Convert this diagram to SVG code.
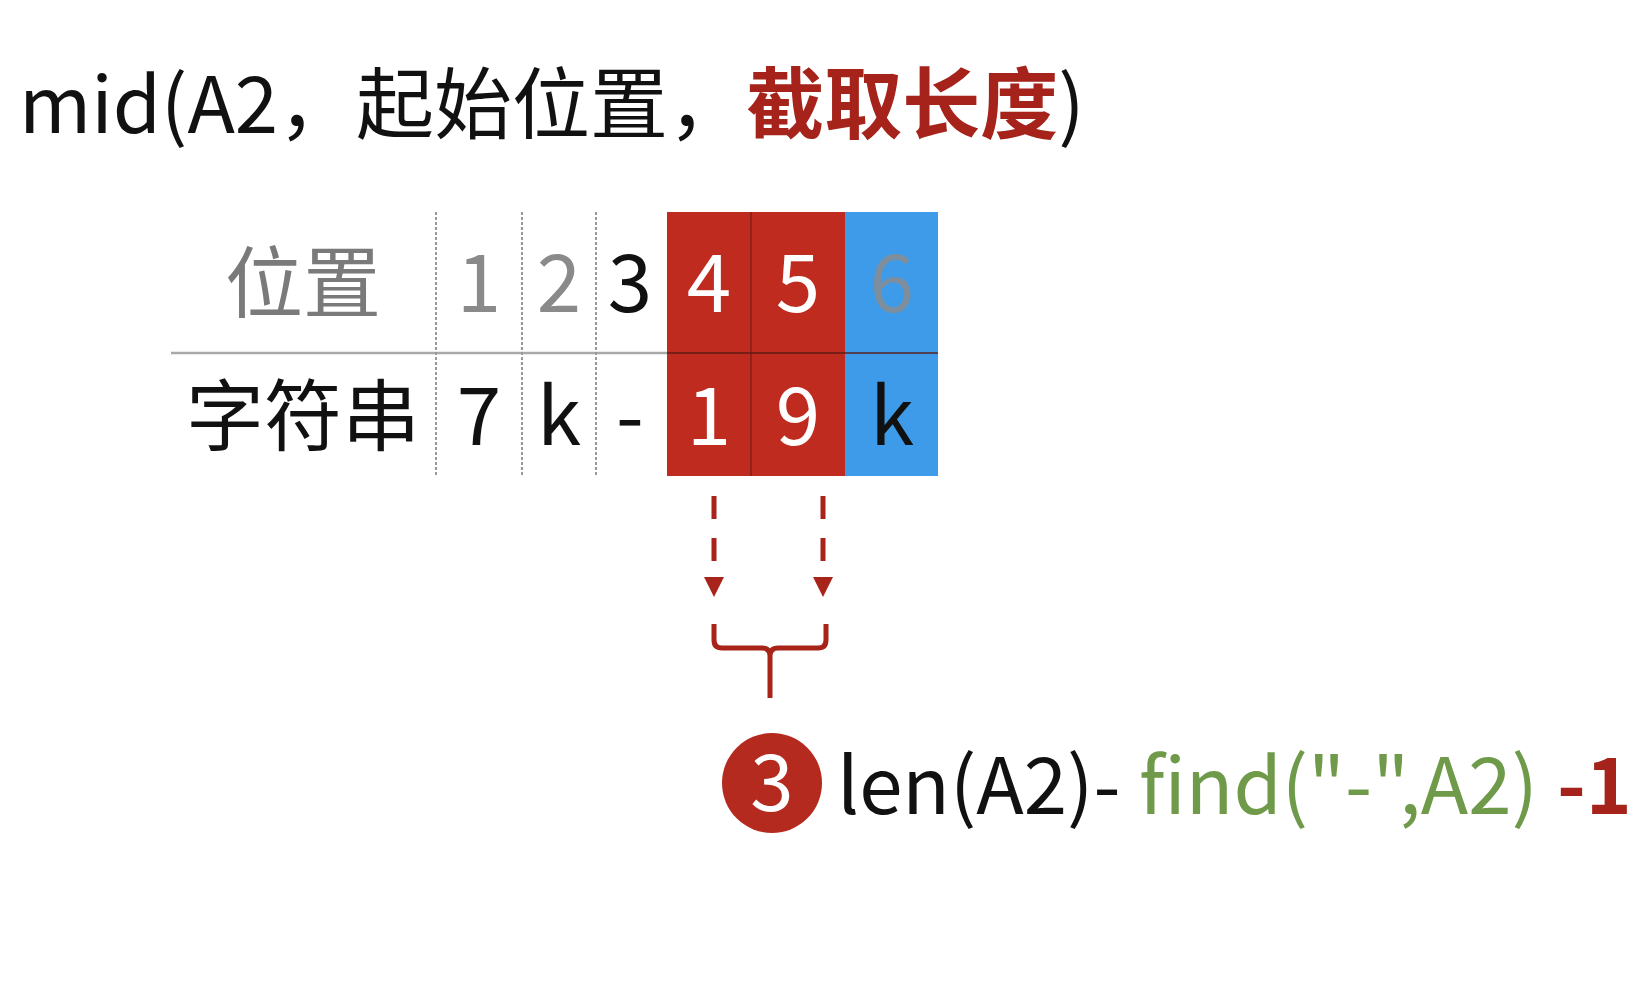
<svg xmlns="http://www.w3.org/2000/svg" width="1641" height="991" viewBox="0 0 1641 991">
<defs>
<style>
text{font-family:"Noto Sans CJK SC","Noto Sans",sans-serif;}
.t{font-size:78px;fill:#111;}
.cell{font-size:80px;text-anchor:middle;}
.f{font-size:78px;}
.grid{stroke:#9a9a9a;stroke-width:2;stroke-dasharray:3 2;fill:none;}
.conn{stroke:#A8241A;stroke-width:5;fill:none;}
.dash{stroke-dasharray:23 19;}
</style>
</defs>
<rect width="1641" height="991" fill="#ffffff"/>
<g id="title">
<text class="t" x="19" y="133">mid(A2，起始位置，<tspan fill="#A5231B" font-weight="bold">截取长度</tspan>)</text>
</g>
<g id="table">
<rect x="667" y="212" width="178" height="264" fill="#BF2B1E"/>
<rect x="845" y="212" width="93" height="264" fill="#3D9BE9"/>
<line x1="171" y1="353" x2="667" y2="353" stroke="#a8a8a8" stroke-width="2.5"/>
<line x1="667" y1="353" x2="938" y2="353" stroke="#5a1a14" stroke-width="2" opacity="0.7"/>
<line x1="751" y1="212" x2="751" y2="476" stroke="#6a1a14" stroke-width="1.5" opacity="0.7"/>
<line x1="436" y1="212" x2="436" y2="476" class="grid"/>
<line x1="522" y1="212" x2="522" y2="476" class="grid"/>
<line x1="596" y1="212" x2="596" y2="476" class="grid"/>
<text class="t" x="303" y="312" text-anchor="middle" style="fill:#7a7a7a">位置</text>
<text class="t" x="303" y="445" text-anchor="middle">字符串</text>
<text class="cell" x="479" y="312" fill="#8a8a8a">1</text>
<text class="cell" x="559" y="312" fill="#8a8a8a">2</text>
<text class="cell" x="630" y="312" fill="#111">3</text>
<text class="cell" x="709" y="312" fill="#fff">4</text>
<text class="cell" x="798" y="312" fill="#fff">5</text>
<text class="cell" x="892" y="312" fill="#7d8e9e">6</text>
<text class="cell" x="479" y="445" fill="#111">7</text>
<text class="cell" x="559" y="445" fill="#111">k</text>
<text class="cell" x="630" y="445" fill="#111">-</text>
<text class="cell" x="709" y="445" fill="#fff">1</text>
<text class="cell" x="798" y="445" fill="#fff">9</text>
<text class="cell" x="892" y="445" fill="#111">k</text>
</g>
<g id="connectors">
<line x1="714" y1="496" x2="714" y2="583" class="conn dash"/>
<line x1="823" y1="496" x2="823" y2="583" class="conn dash"/>
<path d="M704,577 L724,577 L714,597 Z" fill="#A8241A"/>
<path d="M813,577 L833,577 L823,597 Z" fill="#A8241A"/>
<path d="M714,624 L714,640 Q714,648 722,648 L762,648 Q770,648 770,656 L770,698 M770,656 Q770,648 778,648 L818,648 Q826,648 826,640 L826,624" class="conn" stroke-width="6"/>
</g>
<g id="formula">
<circle cx="772" cy="783" r="50" fill="#B52A1E"/>
<text x="772" y="811" font-size="78" text-anchor="middle" fill="#fff">3</text>
<text class="f" x="837" y="814" fill="#111">len(A2)-</text>
<text class="f" x="1139" y="814" fill="#6E9A4A">find("-",A2)</text>
<text class="f" x="1557" y="814" fill="#A5231B" font-weight="bold">-1</text>
</g>
</svg>
